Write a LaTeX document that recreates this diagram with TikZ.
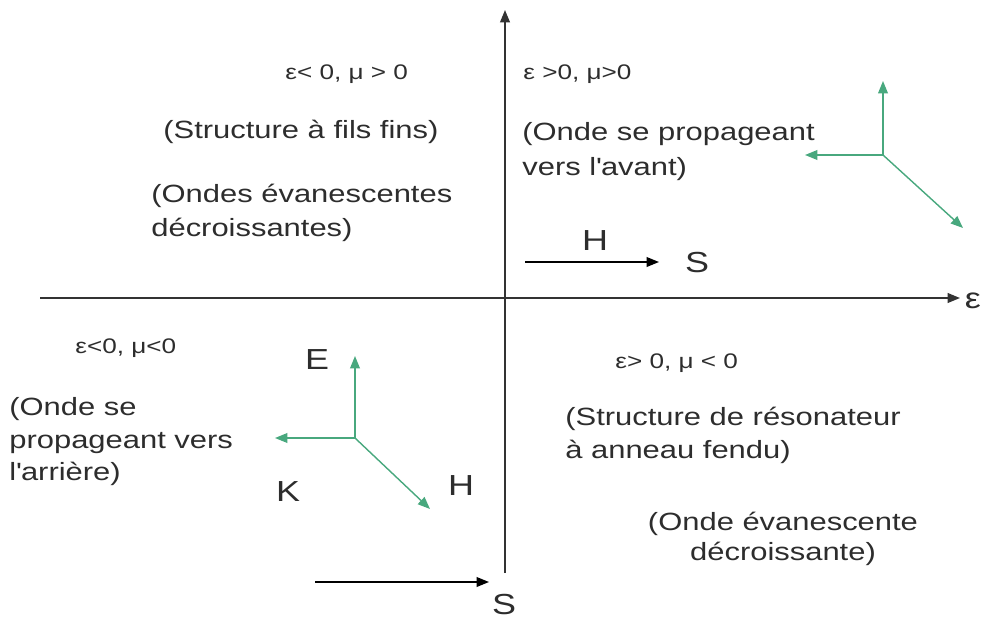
\documentclass[tikz,border=0pt]{standalone}
\usepackage{fontspec}
\setmainfont{Liberation Sans}[FakeStretch=1.24]
\usetikzlibrary{arrows.meta}
\definecolor{vertonde}{RGB}{72,168,126}
\definecolor{gristexte}{RGB}{45,45,45}
\tikzset{
  axe/.style={line width=1pt, black!80, -{Triangle[length=7pt,width=5.5pt]}},
  fleche/.style={line width=0.8pt, -{Triangle[length=7pt,width=5.5pt]}},
  champ/.style={vertonde, line width=0.8pt, -{Triangle[length=7pt,width=5.5pt]}},
  cond/.style={text=gristexte, font=\fontsize{12}{14}\selectfont, inner sep=0pt, anchor=base west},
  texte/.style={text=gristexte, font=\fontsize{14.2}{19.5}\selectfont, inner sep=0pt, anchor=base west},
  lettre/.style={text=gristexte, font=\fontsize{16.5}{18}\selectfont, inner sep=0pt},
}
\begin{document}
\begin{tikzpicture}[x=0.02cm, y=-0.02cm]
\useasboundingbox (0,0) rectangle (981,619);

% Axes
\coordinate (O) at (505,298);
\coordinate (xg) at (40,298);
\coordinate (xd) at (960,298);
\coordinate (yb) at (505,573);
\coordinate (yh) at (505,10);
\draw [axe] (xg) -- (xd);
\draw [axe] (yb) -- (yh);
\node [lettre] (eps) at (973,301) {ε};

% Quadrant haut gauche
\node [cond] (c1) at (285,79) {ε< 0, μ > 0};
\node [texte] (t1) at (163,138) {(Structure à fils fins)};
\node [texte] (t2) at (151,202) {(Ondes évanescentes};
\node [texte] (t3) at (151,236) {décroissantes)};

% Quadrant haut droit
\node [cond] (c2) at (523,79) {ε >0, μ>0};
\node [texte] (t4) at (522,140) {(Onde se propageant};
\node [texte] (t5) at (522,175) {vers l\textquotesingle avant)};
\coordinate (h1) at (525,262);
\coordinate (h2) at (659,262);
\draw [fleche] (h1) -- (h2);
\node [lettre] (H1) at (595,241) {H};
\node [lettre] (S1) at (697,263) {S};

% Triedre direct
\coordinate (o1) at (883,155);
\coordinate (e1) at (883,81);
\coordinate (k1) at (805,155);
\coordinate (d1) at (963,228);
\draw [champ] (o1) -- (e1);
\draw [champ] (o1) -- (k1);
\draw [champ] (o1) -- (d1);

% Quadrant bas gauche
\node [cond] (c3) at (75,353) {ε<0, μ<0};
\node [texte] (t6) at (9,415) {(Onde se};
\node [texte] (t7) at (9,448) {propageant vers};
\node [texte] (t8) at (9,480) {l\textquotesingle arrière)};

% Triedre inverse
\coordinate (o2) at (355,438);
\coordinate (e2) at (355,356);
\coordinate (k2) at (275,438);
\coordinate (d2) at (430,509);
\draw [champ] (o2) -- (e2);
\draw [champ] (o2) -- (k2);
\draw [champ] (o2) -- (d2);
\node [lettre] (E) at (317,360) {E};
\node [lettre] (K) at (288,492) {K};
\node [lettre] (H2) at (461,486) {H};

\coordinate (s1) at (315,582);
\coordinate (s2) at (489,582);
\draw [fleche] (s1) -- (s2);
\node [lettre] (S2) at (504,605) {S};

% Quadrant bas droit
\node [cond] (c4) at (615,368) {ε> 0, μ < 0};
\node [texte] (t9) at (565,425) {(Structure de résonateur};
\node [texte] (t10) at (565,458) {à anneau fendu)};
\node [texte, anchor=base] (t11) at (783,530) {(Onde évanescente};
\node [texte, anchor=base] (t12) at (783,560) {décroissante)};
\end{tikzpicture}
\end{document}
